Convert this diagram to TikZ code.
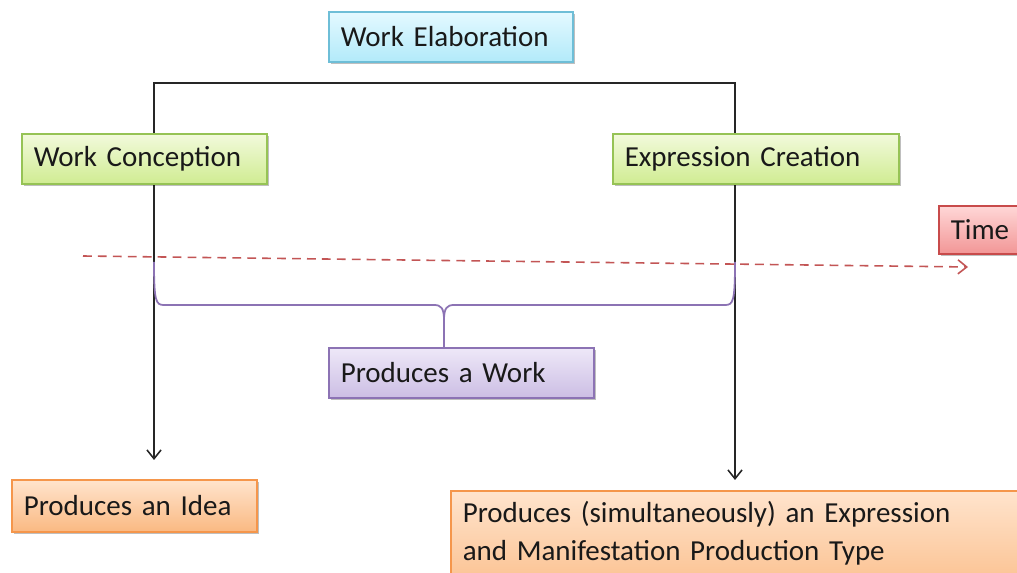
\documentclass[tikz,border=0pt]{standalone}
\usepackage{fontspec}
\setmainfont{Carlito}
\usetikzlibrary{shadows,arrows.meta}
\definecolor{cyT}{RGB}{228,249,255}
\definecolor{cyB}{RGB}{178,234,250}
\definecolor{cyD}{RGB}{110,190,215}
\definecolor{grT}{RGB}{242,250,220}
\definecolor{grB}{RGB}{208,236,146}
\definecolor{grD}{RGB}{150,195,85}
\definecolor{rdT}{RGB}{255,215,215}
\definecolor{rdB}{RGB}{242,150,150}
\definecolor{rdD}{RGB}{200,75,75}
\definecolor{puT}{RGB}{238,232,248}
\definecolor{puB}{RGB}{204,190,228}
\definecolor{puD}{RGB}{140,115,180}
\definecolor{orT}{RGB}{255,228,205}
\definecolor{orB}{RGB}{250,185,130}
\definecolor{orD}{RGB}{245,150,75}
\definecolor{dashC}{RGB}{195,85,85}
\begin{document}
\begin{tikzpicture}[x=0.02cm,y=-0.02cm,
  box/.style={anchor=north west, rectangle, draw=#1D, line width=0.9pt,
    top color=#1T, bottom color=#1B, align=left, inner xsep=0.24cm, inner ysep=3pt,
    font=\fontsize{16.5}{21.5}\selectfont, text=black!90,
    drop shadow={shadow xshift=0.04cm, shadow yshift=-0.05cm, fill=black, opacity=0.25}},
  conn/.style={line width=0.9pt, black!85},
  barb/.style={-{Straight Barb[length=5pt,width=8pt]}}]
\clip (0,0) rectangle (1017,573);
\fill[white] (0,0) rectangle (1017,573);
% coordinates
\coordinate (cL) at (154,83);
\coordinate (cR) at (735,83);
\coordinate (tL) at (154,460);
\coordinate (tR) at (735,480);
\coordinate (ts) at (83,256);
\coordinate (te) at (968,267);
\coordinate (bL) at (154,262);
\coordinate (bR) at (735,262);
\coordinate (bTip) at (444,347);
% black bracket and arrows
\draw[conn,{Straight Barb[length=5pt,width=8pt]}-{Straight Barb[length=5pt,width=8pt]}] (tL) -- (cL) -- (cR) -- (tR);
% nodes
\node[box=cy, text width=4.40cm, minimum height=1.0cm] (we) at (328,11) {Work Elaboration};
\node[box=gr, text width=4.42cm, minimum height=1.0cm] (wc) at (21,133) {Work Conception};
\node[box=gr, text width=5.24cm, minimum height=1.0cm] (ec) at (612,133) {Expression Creation};
\node[box=rd, text width=1.6cm, minimum height=0.96cm] (time) at (938,205) {Time};
\node[box=pu, text width=4.82cm, minimum height=1.0cm] (pw) at (328,347) {Produces a Work};
\node[box=or, text width=4.42cm, minimum height=1.04cm] (idea) at (11,479) {Produces an Idea};
\node[box=or, text width=11.2cm, inner ysep=6pt] (prod) at (450,490) {Produces (simultaneously) an Expression\\and Manifestation Production Type\\\mbox{}};
% dashed time arrow
\draw[dashC, line width=0.9pt, dash pattern=on 5pt off 3.5pt, barb] (ts) -- (te);
% brace
\draw[puD, line width=1pt] (bL) .. controls (154,302) and (156,305) .. (164,305) -- (434,305)
   .. controls (441,305) and (444,308) .. (444,320) -- (bTip);
\draw[puD, line width=1pt] (bR) .. controls (735,302) and (733,305) .. (725,305) -- (454,305)
   .. controls (447,305) and (444,308) .. (444,320);
\end{tikzpicture}
\end{document}
